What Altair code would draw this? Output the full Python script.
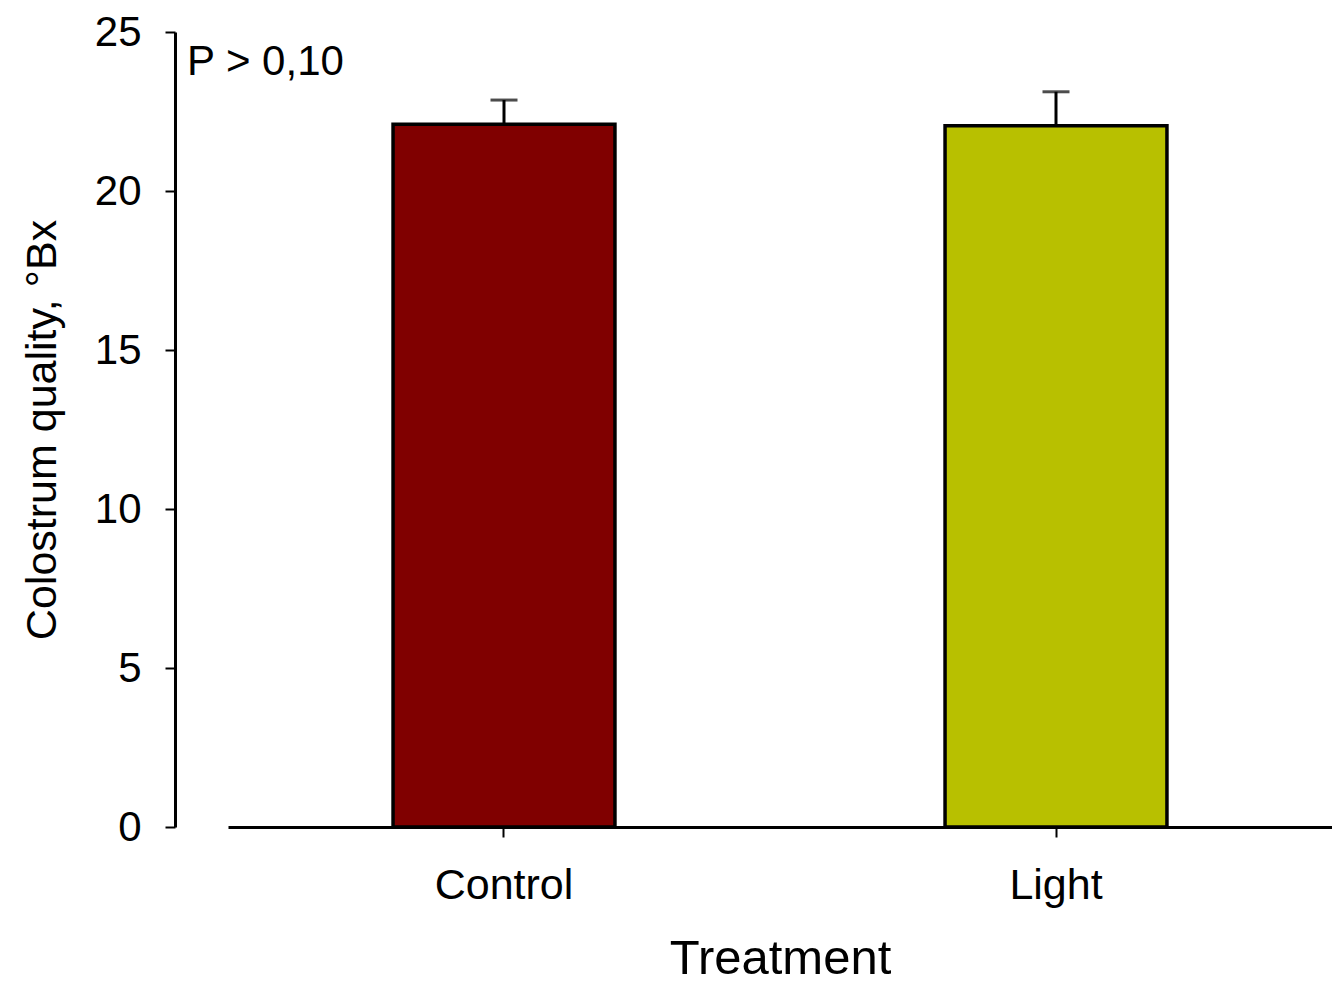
import altair as alt
import pandas as pd

# Treatment means (°Bx) and upper error (mean + SE)
treatments = ["Control", "Light"]
means = [22.1, 22.05]
upper = [22.86, 23.12]
colors = ["#800000", "#B8C000"]

df = pd.DataFrame({"Treatment": treatments, "mean": means, "upper": upper})

FONT = "Liberation Sans"

x_enc = alt.X(
    "Treatment:N",
    sort=treatments,
    scale=alt.Scale(paddingInner=0.598, paddingOuter=0.299),
    axis=alt.Axis(
        title="Treatment",
        titleFontSize=49,
        titleFontWeight="normal",
        titlePadding=27,
        labelFontSize=43,
        labelAngle=0,
        labelPadding=27,
        labelColor="black",
        tickSize=10,
        tickWidth=2,
        tickColor="black",
        domainWidth=3,
        domainColor="black",
    ),
)

y_scale = alt.Scale(domain=[0, 25], nice=False)
y_axis = alt.Axis(
    title="Colostrum quality, °Bx",
    titleFontSize=43,
    titleFontWeight="normal",
    titlePadding=30,
    labelFontSize=42,
    labelPadding=24,
    labelColor="black",
    values=[0, 5, 10, 15, 20, 25],
    tickSize=10,
    tickWidth=2,
    tickColor="black",
    domainWidth=3,
    domainColor="black",
    grid=False,
    offset=53,
)

base = alt.Chart(df)

bars = base.mark_bar(stroke="black", strokeWidth=3.5).encode(
    x=x_enc,
    y=alt.Y("mean:Q", scale=y_scale, axis=y_axis),
    color=alt.Color(
        "Treatment:N",
        scale=alt.Scale(domain=treatments, range=colors),
        legend=None,
    ),
)

stems = base.mark_rule(color="black", strokeWidth=3).encode(
    x=alt.X("Treatment:N", sort=treatments),
    y="mean:Q",
    y2="upper:Q",
)

caps = base.mark_tick(color="black", thickness=3, size=27, orient="horizontal").encode(
    x=alt.X("Treatment:N", sort=treatments),
    y="upper:Q",
)

note = alt.Chart(pd.DataFrame({"label": ["P > 0,10"]})).mark_text(
    align="left", baseline="middle", fontSize=42, font=FONT, color="black"
).encode(
    x=alt.value(-41),
    y=alt.value(30),
    text="label:N",
)

chart = (
    alt.layer(bars, stems, caps, note)
    .properties(
        width=1104,
        height=795,
        autosize=alt.AutoSizeParams(type="none"),
        padding={"left": 228, "top": 32, "right": 0, "bottom": 161},
    )
    .configure(font=FONT)
    .configure_view(stroke=None)
    .configure_axis(labelFont=FONT, titleFont=FONT, titleColor="black")
)

chart.save("out.html", embed_options={"renderer": "svg", "actions": False})
